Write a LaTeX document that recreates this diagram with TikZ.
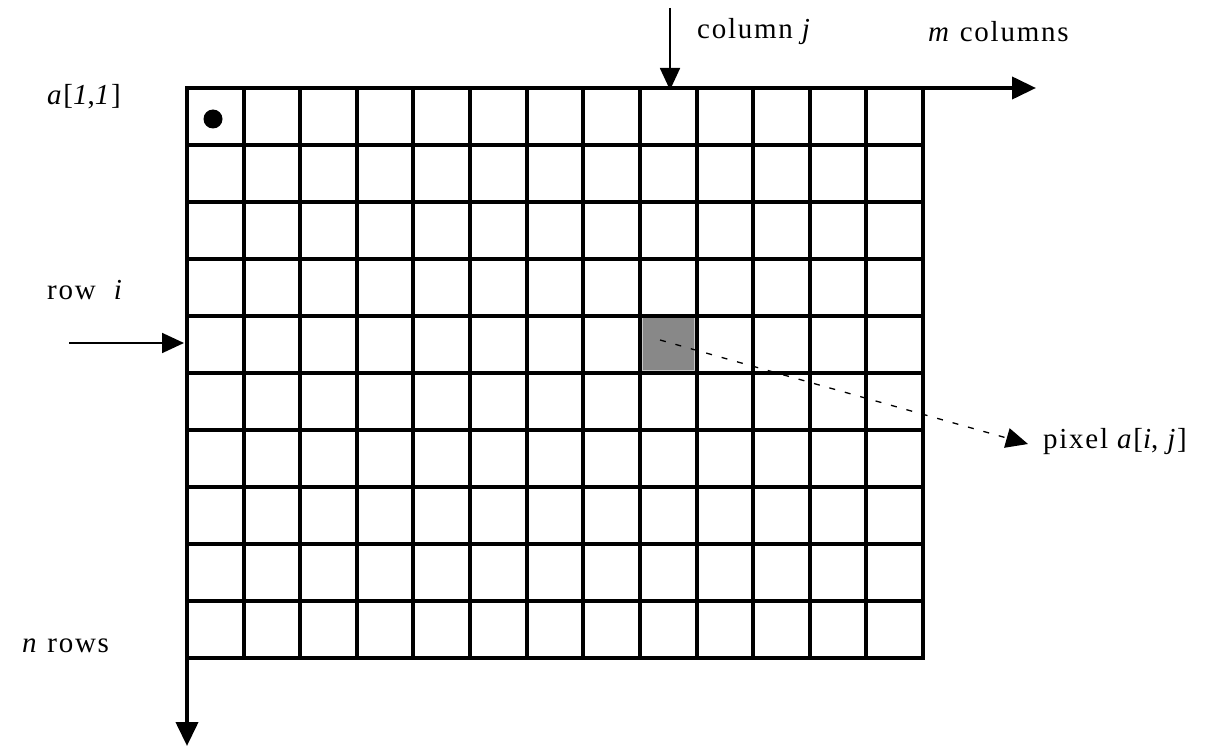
\documentclass[tikz,border=0pt]{standalone}
\usepackage{fontspec}
\setmainfont{Liberation Serif}[LetterSpace=6]
\usetikzlibrary{arrows.meta}
\definecolor{pixgray}{RGB}{136,136,136}
\definecolor{pixedge}{RGB}{200,200,200}
\begin{document}
\begin{tikzpicture}[x=1pt,y=-1pt,
  gridline/.style={line width=4pt,line cap=rect},
  axisline/.style={line width=4pt,-{Triangle[length=24pt,width=22pt]}},
  thinarrow/.style={line width=1.8pt,-{Triangle[length=22pt,width=20pt]}},
  dasharrow/.style={line width=1.3pt,dash pattern=on 6pt off 10pt,-{Triangle[length=22pt,width=20pt]}},
  lbl/.style={anchor=west,inner sep=0pt,font=\fontsize{29}{32}\selectfont}]
\useasboundingbox (0,0) rectangle (1214,746);
% highlighted pixel
\fill[pixgray] (642,317) rectangle (694,370);
\draw[pixedge,line width=1pt] (642,317) rectangle (694,370);
% grid
\foreach \i in {0,...,13}
  \draw[gridline] ({187+\i*56.615},88) -- ({187+\i*56.615},658);
\foreach \j in {1,...,10}
  \draw[gridline] (187,{88+\j*57}) -- (923,{88+\j*57});
% corners and axes
\coordinate (origin) at (187,88);
\coordinate (xend) at (1036,88);
\coordinate (yend) at (187,746);
\draw[axisline] (origin) -- (xend);
\draw[axisline] (origin) -- (yend);
% dot
\fill (213,119) circle (9.5pt);
% labels
\node[lbl] (a11) at (47,97) {\textit{a}[\textit{1},\textit{1}]};
\node[lbl] (colj) at (697,32) {column\ \textit{j}};
\node[lbl] (mcol) at (928,32) {\textit{m} columns};
\node[lbl] (rowi) at (47,290) {row\ \ \textit{i}};
\node[lbl] (nrows) at (22,646) {\textit{n} rows};
\node[lbl] (pix) at (1043,442) {pixel \textit{a}[\textit{i}, \textit{j}]};
% arrows
\coordinate (cjs) at (670,8);
\coordinate (cje) at (670,90);
\draw[thinarrow] (cjs) -- (cje);
\coordinate (ris) at (69,343);
\coordinate (rie) at (184,343);
\draw[thinarrow] (ris) -- (rie);
\coordinate (pxs) at (660,340);
\coordinate (pxe) at (1028,444);
\draw[dasharrow] (pxs) -- (pxe);
\end{tikzpicture}
\end{document}
